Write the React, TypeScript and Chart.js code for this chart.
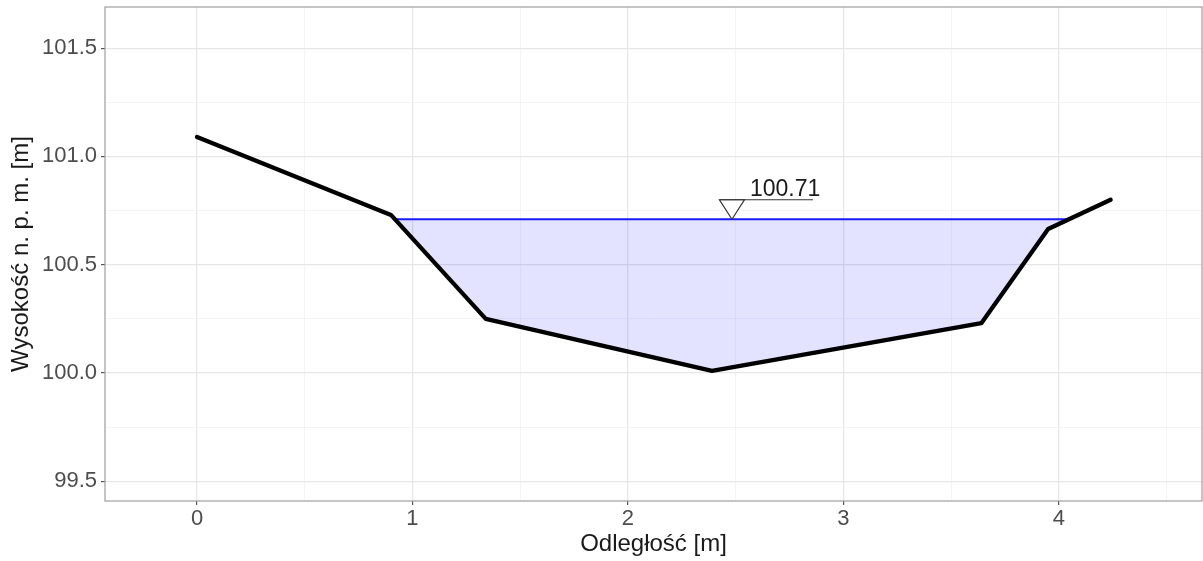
import React, { useEffect, useRef } from "react";
import { Chart, registerables } from "chart.js";

Chart.register(...registerables);

// ---- data ----
const distance = [0, 0.9, 1.34, 2.39, 3.64, 3.95, 4.24];
const elevation = [101.09, 100.73, 100.25, 100.01, 100.23, 100.665, 100.8];
const waterLevel = 100.71;

const xGridValues = [0, 0.5, 1, 1.5, 2, 2.5, 3, 3.5, 4, 4.5];
const yGridValues = [99.5, 99.75, 100, 100.25, 100.5, 100.75, 101, 101.25, 101.5];

const xTitle = "Odległość [m]";
const yTitle = "Wysokość n. p. m. [m]";

const xRange = [-0.427, 4.664];
const yRange = [99.409, 101.69];

const FONT = "'Liberation Sans', Arial, Helvetica, sans-serif";

function crossings(xs: number[], ys: number[], level: number): number[] {
  const out: number[] = [];
  for (let i = 0; i < xs.length - 1; i++) {
    const a = ys[i] - level;
    const b = ys[i + 1] - level;
    if (a === 0) out.push(xs[i]);
    else if (a * b < 0) {
      const t = a / (a - b);
      out.push(xs[i] + t * (xs[i + 1] - xs[i]));
    }
  }
  return out;
}

const isMajorX = (v: number) => Math.abs(v - Math.round(v)) < 1e-9;
const isMajorY = (v: number) => Math.abs(v * 2 - Math.round(v * 2)) < 1e-9;

export default function App() {
  const ref = useRef<HTMLCanvasElement | null>(null);

  useEffect(() => {
    if (!ref.current) return;
    const cx = crossings(distance, elevation, waterLevel);
    const wLeft = cx[0];
    const wRight = cx[cx.length - 1];
    const markerX = (wLeft + wRight) / 2;

    const terrain = distance.map((x, i) => ({ x, y: elevation[i] }));
    const waterPoly = [
      { x: wLeft, y: waterLevel },
      ...terrain.filter((p) => p.x > wLeft && p.x < wRight),
      { x: wRight, y: waterLevel },
    ];
    const waterLine = [
      { x: wLeft, y: waterLevel },
      { x: wRight, y: waterLevel },
    ];

    const overlay = {
      id: "overlay",
      afterDatasetsDraw(chart: any) {
        const { ctx, chartArea, scales } = chart;
        const px = scales.x.getPixelForValue(markerX);
        const py = scales.y.getPixelForValue(waterLevel);
        const hw = 12.5;
        const h = 19.5;
        ctx.save();
        // triangle
        ctx.beginPath();
        ctx.moveTo(px - hw, py - h);
        ctx.lineTo(px + hw, py - h);
        ctx.lineTo(px, py);
        ctx.closePath();
        ctx.fillStyle = "#ffffff";
        ctx.fill();
        ctx.strokeStyle = "#333333";
        ctx.lineWidth = 1.2;
        ctx.stroke();
        // underline
        ctx.beginPath();
        ctx.moveTo(px - hw, py - h);
        ctx.lineTo(px + 81, py - h);
        ctx.stroke();
        // label
        ctx.fillStyle = "#1a1a1a";
        ctx.font = `23px ${FONT}`;
        ctx.textAlign = "left";
        ctx.textBaseline = "alphabetic";
        ctx.fillText(waterLevel.toFixed(2), px + 18, py - 23);
        // panel border
        ctx.strokeStyle = "#9e9e9e";
        ctx.lineWidth = 1.2;
        ctx.strokeRect(
          chartArea.left,
          chartArea.top,
          chartArea.right - chartArea.left,
          chartArea.bottom - chartArea.top
        );
        ctx.restore();
      },
    };

    const chart = new Chart(ref.current, {
      type: "line",
      data: {
        datasets: [
          {
            label: "terrain",
            data: terrain,
            borderColor: "#000000",
            borderWidth: 4.3,
            borderJoinStyle: "round",
            borderCapStyle: "round",
            pointRadius: 0,
            fill: false,
            order: 0,
          } as any,
          {
            label: "water",
            data: waterLine,
            borderColor: "#1a1aff",
            borderWidth: 1.8,
            pointRadius: 0,
            fill: false,
            order: 1,
          },
          {
            label: "waterFill",
            data: waterPoly,
            borderWidth: 0,
            borderColor: "rgba(0,0,0,0)",
            backgroundColor: "rgba(0,0,255,0.11)",
            pointRadius: 0,
            fill: { value: waterLevel },
            order: 2,
          } as any,
        ],
      },
      options: {
        animation: false,
        responsive: true,
        maintainAspectRatio: false,
        layout: { padding: { top: 7, right: 1, left: 0, bottom: 0 } },
        plugins: {
          legend: { display: false },
          tooltip: { enabled: false },
        },
        scales: {
          x: {
            type: "linear",
            min: xRange[0],
            max: xRange[1],
            afterBuildTicks(scale: any) {
              scale.ticks = xGridValues.map((v) => ({ value: v }));
            },
            afterFit(scale: any) {
              scale.height = 60;
              scale.paddingLeft = 0;
              scale.paddingRight = 0;
            },
            ticks: {
              autoSkip: false,
              maxRotation: 0,
              padding: 1,
              color: "#4d4d4d",
              font: { family: FONT, size: 22 },
              callback: (v: any) => (isMajorX(Number(v)) ? String(Math.round(Number(v))) : ""),
            },
            grid: {
              color: (c: any) => (isMajorX(c.tick.value) ? "#e6e6e6" : "#f1f1f1"),
              lineWidth: (c: any) => (isMajorX(c.tick.value) ? 1.2 : 0.8),
              tickColor: (c: any) => (isMajorX(c.tick.value) ? "#555555" : "rgba(0,0,0,0)"),
              tickLength: 4,
              drawTicks: true,
            },
            border: { display: false },
            title: {
              display: true,
              text: xTitle,
              color: "#1a1a1a",
              font: { family: FONT, size: 24 },
              padding: { top: 0, bottom: 2 },
            },
          },
          y: {
            type: "linear",
            min: yRange[0],
            max: yRange[1],
            afterBuildTicks(scale: any) {
              scale.ticks = yGridValues.map((v) => ({ value: v }));
            },
            afterFit(scale: any) {
              scale.width = 105;
              scale.paddingTop = 0;
              scale.paddingBottom = 0;
            },
            ticks: {
              autoSkip: false,
              padding: 4,
              color: "#4d4d4d",
              font: { family: FONT, size: 22 },
              callback: (v: any) => (isMajorY(Number(v)) ? Number(v).toFixed(1) : ""),
            },
            grid: {
              color: (c: any) => (isMajorY(c.tick.value) ? "#e6e6e6" : "#f1f1f1"),
              lineWidth: (c: any) => (isMajorY(c.tick.value) ? 1.2 : 0.8),
              tickColor: (c: any) => (isMajorY(c.tick.value) ? "#555555" : "rgba(0,0,0,0)"),
              tickLength: 4,
              drawTicks: true,
            },
            border: { display: false },
            title: {
              display: true,
              text: yTitle,
              color: "#1a1a1a",
              font: { family: FONT, size: 24 },
              padding: { top: 7, bottom: 0 },
            },
          },
        },
      },
      plugins: [overlay],
    });

    return () => chart.destroy();
  }, []);

  return (
    <div
      style={{
        position: "absolute",
        left: 0,
        top: 0,
        width: "1203px",
        height: "561px",
        background: "#ffffff",
      }}
    >
      <canvas ref={ref} />
    </div>
  );
}
